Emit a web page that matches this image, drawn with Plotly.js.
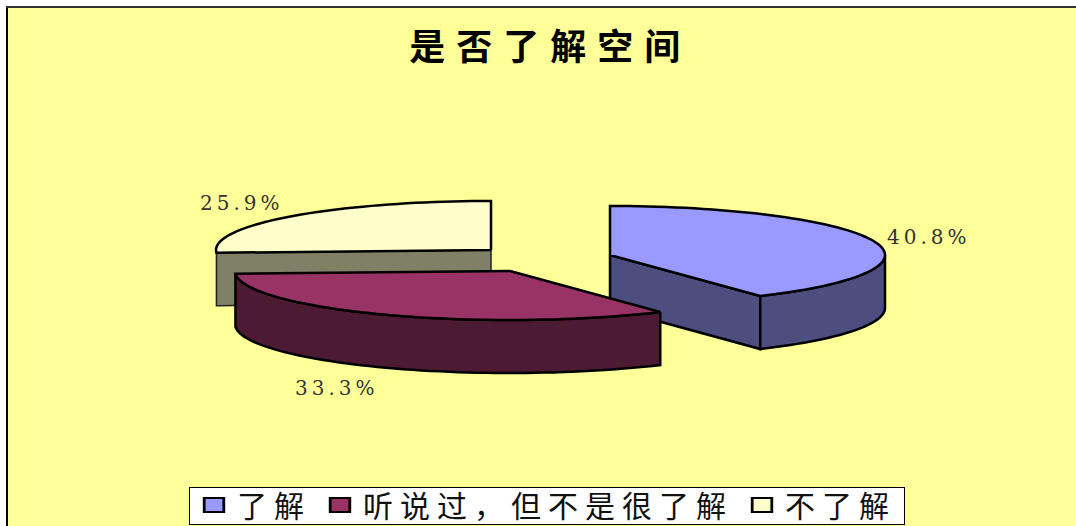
<!DOCTYPE html>
<html>
<head>
<meta charset="utf-8">
<script src="https://cdn.plot.ly/plotly-3.0.1.min.js"></script>
<style>
html,body{margin:0;padding:0;background:#fff;}
#chart{width:1076px;height:526px;}
.gtitle{letter-spacing:11px;}
.legendtext{letter-spacing:7px;}
.annotation-text-g text{letter-spacing:4px;}
.legendpoints path.scatterpts{transform:translate(24px,0px) scaleX(1.4);}
.legend rect.bg{transform:translateY(9px);height:37px;width:715px;}
</style>
</head>
<body>
<div id="chart"></div>
<script>
const categories = ['了解', '听说过，但不是很了解', '不了解'];
const shares = [40.8, 33.3, 25.9];
const chartTitle = '是否了解空间';
const topColors = ['#9999FF', '#993366', '#FFFFCC'];
const wallColors = ['#4D4D80', '#4D1A33', '#808066'];
// scene geometry (pie projected to an ellipse, slices pulled apart)
const apexes = [[610, 255], [510, 271], [491, 250]];
const rx = 275, ry = 49, depth = 53;
const labelAt = [[929, 237], [337, 388], [242, 203]];

const total = shares.reduce((a, b) => a + b, 0);
const pt = (c, deg, dz = 0) => {
  const r = deg * Math.PI / 180;
  return [c[0] + rx * Math.sin(r), c[1] - ry * Math.cos(r) + dz];
};
const arc = (c, a0, a1, dz = 0) => {
  const out = [], n = Math.max(2, Math.ceil(Math.abs(a1 - a0) / 2));
  for (let i = 0; i <= n; i++) out.push(pt(c, a0 + (a1 - a0) * i / n, dz));
  return out;
};
const poly = (pts, color, lineColor, width) => ({
  type: 'scatter', mode: 'lines', showlegend: false, hoverinfo: 'skip',
  x: pts.map(p => p[0]).concat([pts[0][0]]),
  y: pts.map(p => p[1]).concat([pts[0][1]]),
  fill: 'toself', fillcolor: color,
  line: {color: lineColor, width: width, simplify: false}
});

let acc = 0;
const spans = shares.map(v => { const s = [acc, acc + v / total * 360]; acc = s[1]; return s; });

const traces = [];
// blue slice
(function () {
  const c = apexes[0], [a0, a1] = spans[0];
  traces.push(poly([c, pt(c, a1), pt(c, a1, depth), [c[0], c[1] + depth]], wallColors[0], '#000', 2.5));
  traces.push(poly(arc(c, 90, a1).concat(arc(c, a1, 90, depth)), wallColors[0], '#000', 2.5));
  traces.push(poly([c].concat(arc(c, a0, a1)), topColors[0], '#000', 2.5));
})();
// cream slice
(function () {
  const c = apexes[2], [a0, a1] = spans[2];
  traces.push(poly([c, pt(c, a0), pt(c, a0, depth), [c[0], c[1] + depth]], wallColors[2], '#222', 1.5));
  traces.push(poly([c].concat(arc(c, a0, a1)), topColors[2], '#000', 2.5));
})();
// red slice
(function () {
  const c = apexes[1], [a0, a1] = spans[1];
  traces.push(poly(arc(c, a0, a1).concat(arc(c, a1, a0, depth)), wallColors[1], '#000', 2.5));
  traces.push(poly([c].concat(arc(c, a0, a1)), topColors[1], '#000', 2.5));
})();
// legend keys
categories.forEach((name, i) => traces.push({
  type: 'scatter', mode: 'markers', name: name, x: [null], y: [null], hoverinfo: 'skip',
  marker: {symbol: 'square', size: 14, color: topColors[i], line: {color: '#000', width: 2}}
}));

const layout = {
  width: 1076, height: 526,
  margin: {l: 8, r: 0, t: 8, b: 0, autoexpand: false},
  paper_bgcolor: '#FFFFFF', plot_bgcolor: '#FFFF99',
  font: {family: '"Noto Sans CJK SC", sans-serif', color: '#000'},
  title: {text: '<b>' + chartTitle + '</b>', x: 0.5115, xanchor: 'center', y: 0.91, yanchor: 'middle',
          font: {size: 36, family: '"Noto Sans CJK SC", sans-serif', color: '#000'}},
  xaxis: {range: [8, 1076], showgrid: false, zeroline: false, showticklabels: false, ticks: '',
          showline: true, side: 'top', linecolor: '#333', linewidth: 1.5, fixedrange: true},
  yaxis: {range: [526, 8], showgrid: false, zeroline: false, showticklabels: false, ticks: '',
          showline: true, linecolor: '#000', linewidth: 1.5, fixedrange: true},
  showlegend: true,
  legend: {orientation: 'h', x: (189 - 8) / 1068, xanchor: 'left', y: (526 - 478) / 518, yanchor: 'top',
           bgcolor: '#FFFFFF', bordercolor: '#000', borderwidth: 1, itemclick: false, itemdoubleclick: false,
           itemwidth: 37,
           font: {size: 30, family: '"Noto Sans CJK SC", sans-serif', color: '#111'}},
  annotations: shares.map((v, i) => ({
    x: labelAt[i][0], y: labelAt[i][1], xref: 'x', yref: 'y', showarrow: false,
    text: v.toFixed(1) + '%',
    font: {size: 20, family: '"DejaVu Serif", serif', color: '#333'}
  }))
};
Plotly.newPlot('chart', traces, layout, {displayModeBar: false, responsive: false});
</script>
</body>
</html>
